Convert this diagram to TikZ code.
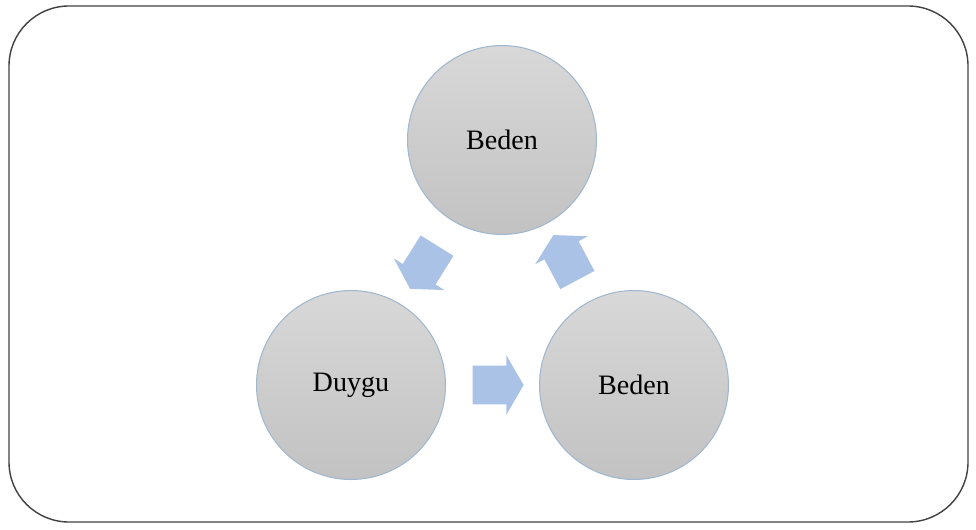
\documentclass[tikz,border=0pt]{standalone}
\usepackage{fontspec}
\setmainfont{Liberation Serif}
\usepackage{tikz}
\usetikzlibrary{shapes.arrows,calc}

\definecolor{ballTop}{HTML}{D8D8D8}
\definecolor{ballBot}{HTML}{C2C2C2}
\definecolor{ballEdge}{HTML}{9FB8D0}
\definecolor{flow}{HTML}{A9C2E6}

\begin{document}
\begin{tikzpicture}[x=0.02cm, y=-0.02cm,
  ball/.style={circle, minimum size=3.78cm, draw=ballEdge, line width=0.6pt,
    top color=ballTop, bottom color=ballBot, font=\fontsize{16}{19}\selectfont},
  flowarrow/.style={single arrow, fill=flow, draw=none, inner xsep=0pt, inner ysep=0.38cm,
    minimum height=1.02cm,
    single arrow head extend=0.21cm, single arrow tip angle=120}]
\useasboundingbox (0,0) rectangle (976,530);
\draw[rounded corners=1.2cm, line width=0.8pt, draw=black!75] (9,6) rectangle (968,522);
\node[ball] (top) at (502,140) {Beden};
\node[ball] (duygu) at (351,385) {Duygu};
\node[ball] (right) at (634,385) {Beden};
\node[flowarrow, rotate=238] (a1) at ($(top)!0.5!(duygu)$) {};
\node[flowarrow] (a2) at ($(duygu)!0.5!(right)$) {};
\node[flowarrow, rotate=118] (a3) at ($(right)!0.5!(top)$) {};
\end{tikzpicture}
\end{document}
